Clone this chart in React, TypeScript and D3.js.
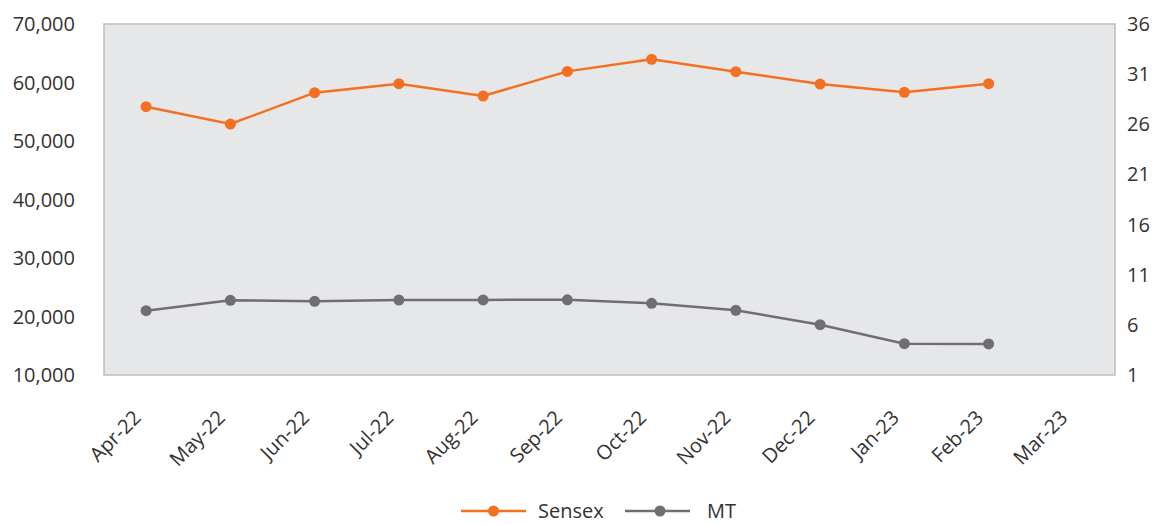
import React from 'react';
import * as d3 from 'd3';

const months = ['Apr-22', 'May-22', 'Jun-22', 'Jul-22', 'Aug-22', 'Sep-22', 'Oct-22', 'Nov-22', 'Dec-22', 'Jan-23', 'Feb-23', 'Mar-23'];
// Sensex (left axis) — no value for Mar-23
const sensex = [55860, 52900, 58260, 59800, 57690, 61900, 63970, 61850, 59740, 58320, 59800];
// MT (right axis)
const mt = [7.41, 8.45, 8.35, 8.48, 8.49, 8.5, 8.15, 7.45, 6.02, 4.12, 4.1];
const leftTicks = [10000, 20000, 30000, 40000, 50000, 60000, 70000];
const rightTicks = [1, 6, 11, 16, 21, 26, 31, 36];

const W = 1157;
const H = 524;
const plot = { left: 104, right: 1115, top: 24, bottom: 375 };
const FONT = '"Open Sans", "Noto Sans", sans-serif';
const ORANGE = '#F37021';
const GREY = '#6F6F72';
const TEXT = '#333333';
const LEGEND_Y = 511;

export default function App() {
  const x = d3.scaleBand<string>().domain(months).range([plot.left, plot.right]);
  const yL = d3.scaleLinear().domain([10000, 70000]).range([plot.bottom, plot.top]);
  const yR = d3.scaleLinear().domain([1, 36]).range([plot.bottom, plot.top]);
  const cx = (i: number) => (x(months[i]) as number) + x.bandwidth() / 2;
  const fmt = d3.format(',');

  const sensexLine = d3.line<number>().x((_, i) => cx(i)).y(d => yL(d))(sensex) as string;
  const mtLine = d3.line<number>().x((_, i) => cx(i)).y(d => yR(d))(mt) as string;

  return (
    <svg width={W} height={H} style={{ position: 'absolute', left: 0, top: 0 }} fontFamily={FONT}>
      <rect x={0} y={0} width={W} height={H} fill="#ffffff" />
      <rect x={plot.left} y={plot.top} width={plot.right - plot.left} height={plot.bottom - plot.top}
        fill="#E6E7E8" stroke="#BDBDBD" strokeWidth={1.5} />

      {leftTicks.map(t => (
        <text key={'l' + t} x={75} y={yL(t)} dy="0.35em" textAnchor="end" fontSize={20} fill={TEXT}>{fmt(t)}</text>
      ))}
      {rightTicks.map(t => (
        <text key={'r' + t} x={1127} y={yR(t)} dy="0.35em" textAnchor="start" fontSize={20} fill={TEXT}>{t}</text>
      ))}
      {months.map((m, i) => (
        <text key={m} transform={`translate(${cx(i) - 4},${plot.bottom + 44}) rotate(-45)`} textAnchor="end"
          fontSize={20} fill={TEXT}>{m}</text>
      ))}

      <path d={mtLine} fill="none" stroke={GREY} strokeWidth={2.5} />
      {mt.map((d, i) => <circle key={'m' + i} cx={cx(i)} cy={yR(d)} r={5.5} fill={GREY} />)}
      <path d={sensexLine} fill="none" stroke={ORANGE} strokeWidth={2.5} />
      {sensex.map((d, i) => <circle key={'s' + i} cx={cx(i)} cy={yL(d)} r={5.5} fill={ORANGE} />)}

      <g>
        <line x1={461} x2={526} y1={LEGEND_Y} y2={LEGEND_Y} stroke={ORANGE} strokeWidth={2.5} />
        <circle cx={493.5} cy={LEGEND_Y} r={5.5} fill={ORANGE} />
        <text x={538} y={LEGEND_Y} dy="0.35em" fontSize={20} fill={TEXT}>Sensex</text>
        <line x1={625} x2={690} y1={LEGEND_Y} y2={LEGEND_Y} stroke={GREY} strokeWidth={2.5} />
        <circle cx={660} cy={LEGEND_Y} r={5.5} fill={GREY} />
        <text x={707} y={LEGEND_Y} dy="0.35em" fontSize={20} fill={TEXT}>MT</text>
      </g>
    </svg>
  );
}
